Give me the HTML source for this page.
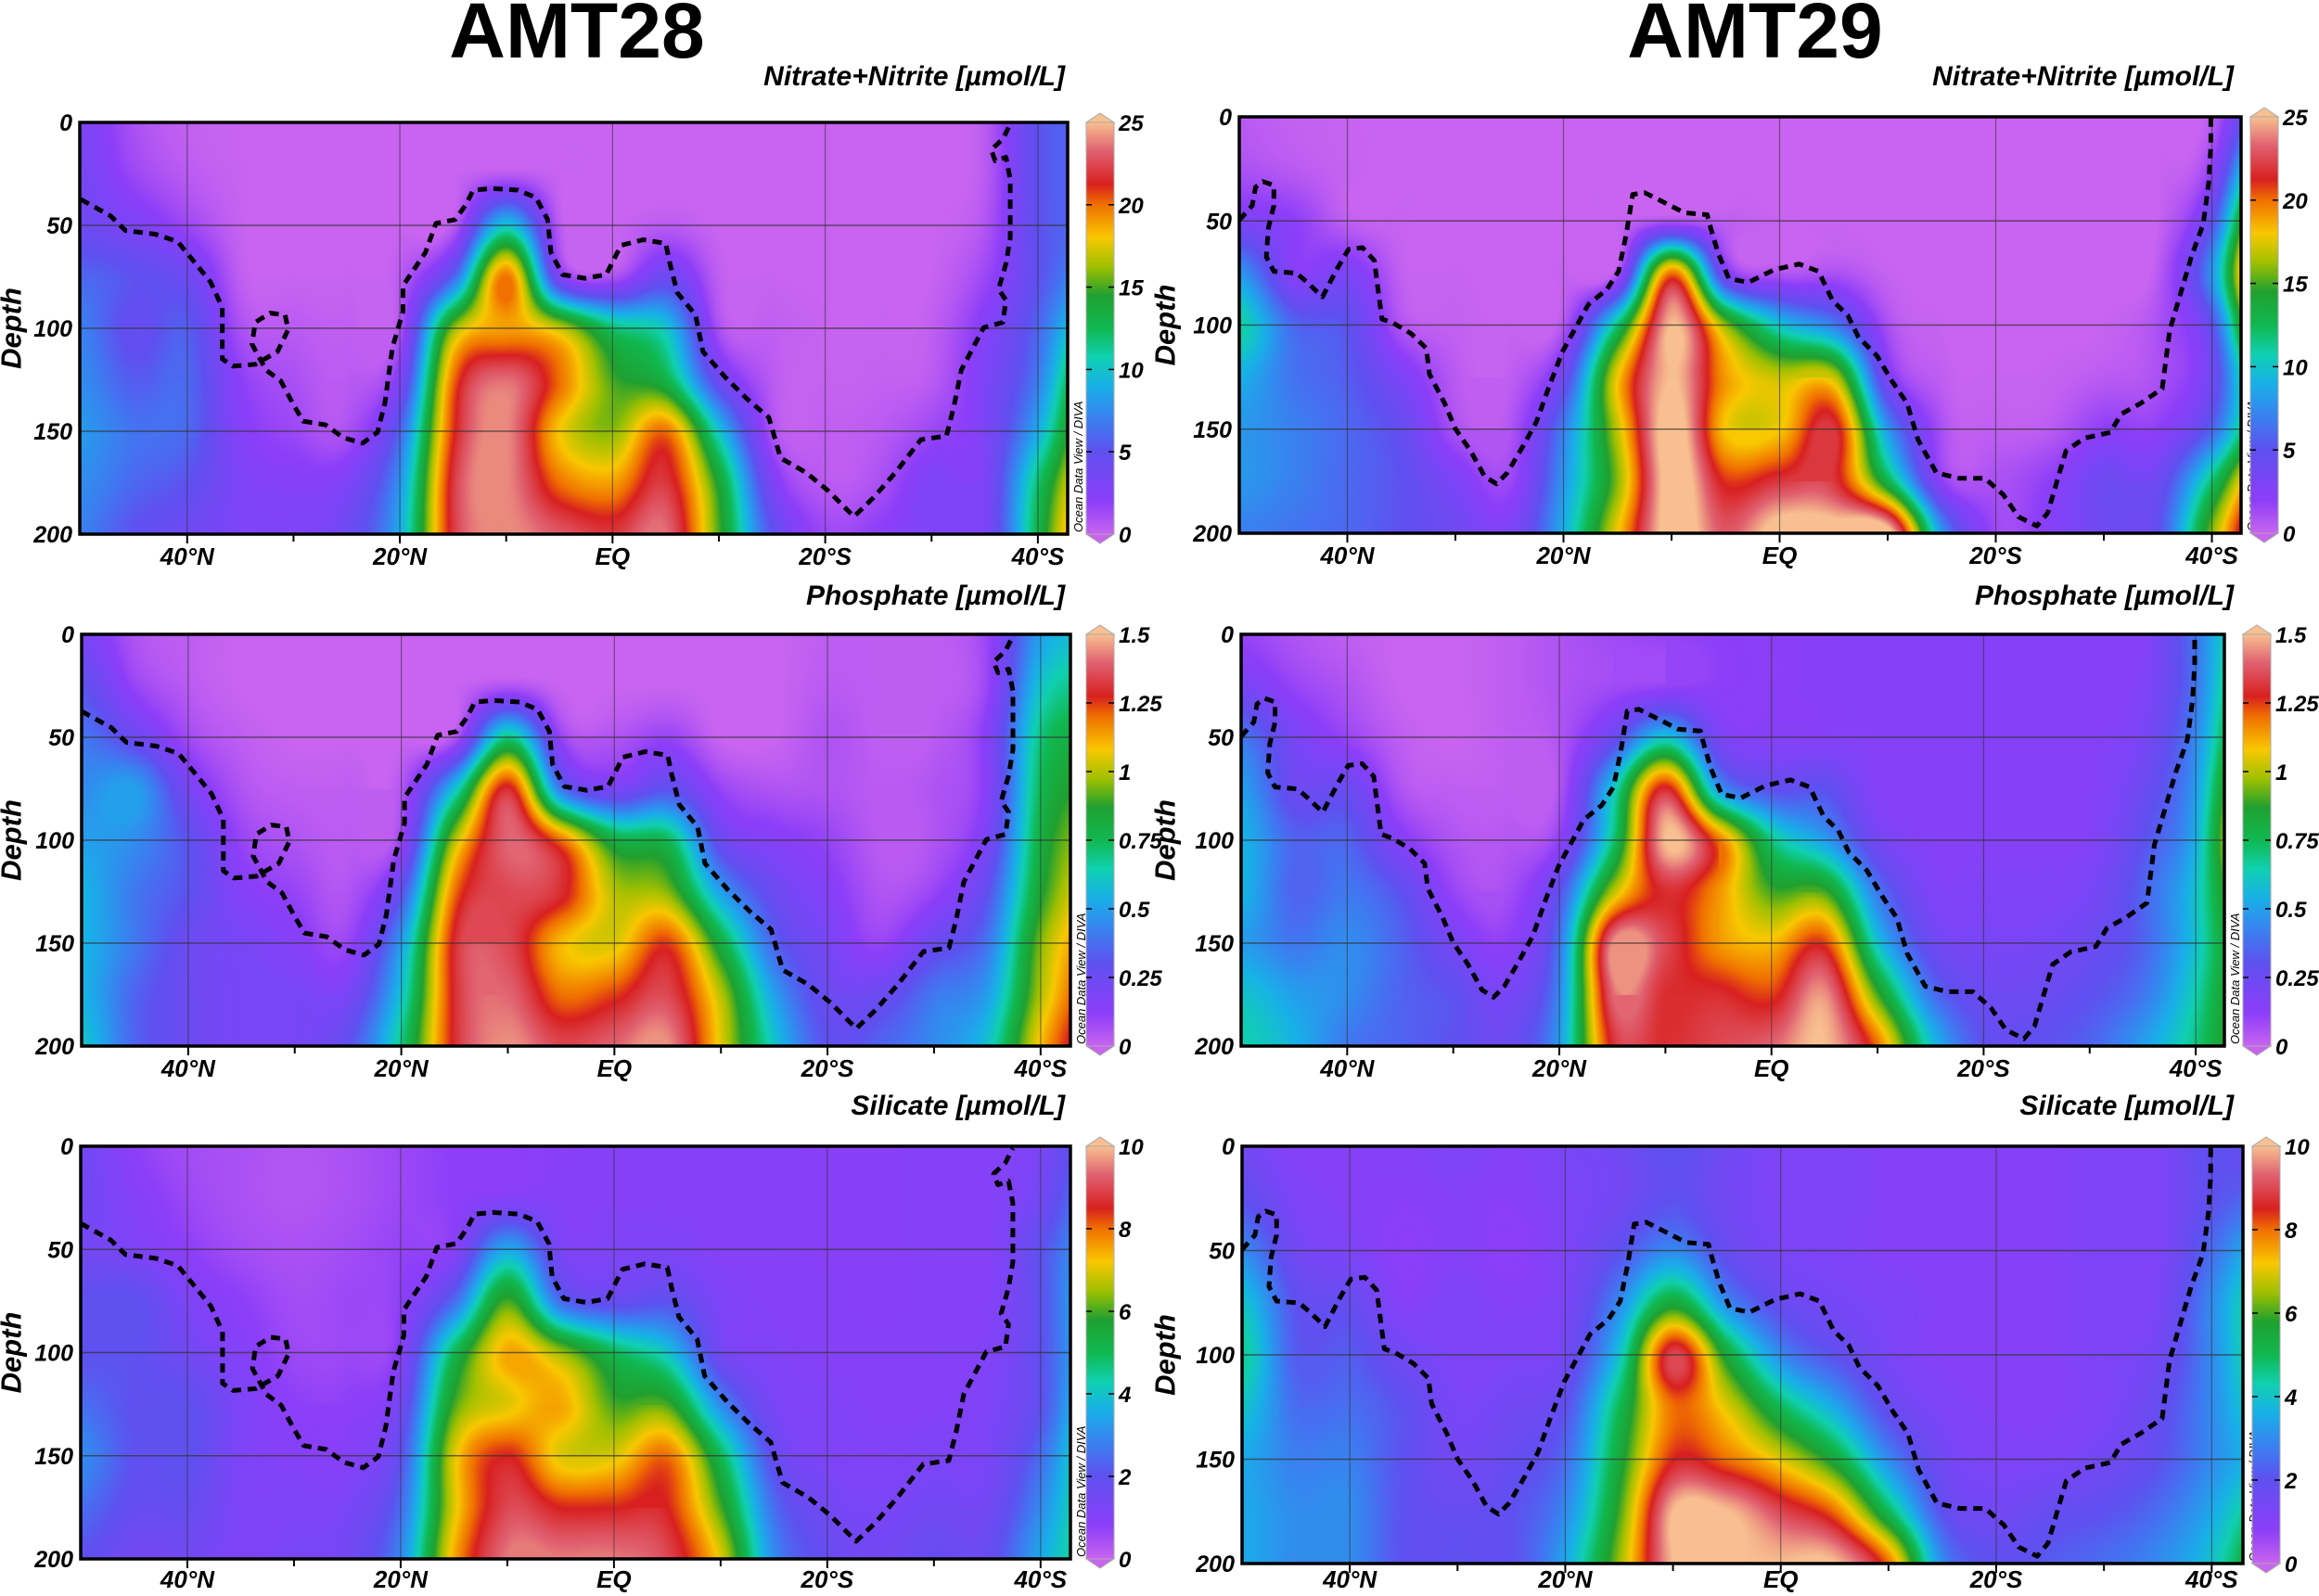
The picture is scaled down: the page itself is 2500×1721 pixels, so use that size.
<!DOCTYPE html>
<html><head><meta charset="utf-8">
<style>
html,body{margin:0;padding:0;background:#fff;}
#wrap{position:relative;width:2500px;height:1721px;overflow:hidden;background:#fff;}
canvas{position:absolute;}
svg{position:absolute;left:0;top:0;}
text{font-family:"Liberation Sans Narrow","Liberation Sans",Arial,sans-serif;}
</style></head>
<body>
<div id="wrap">
<svg id="ov" width="2500" height="1721"></svg>
</div>
<script>
// ---------- data ----------
const gridLats=[50,45,40,35,30,25,20,15,10,5,0,-5,-10,-15,-20,-25,-30,-35,-40,-45];
const gridDepths=[0,25,50,75,100,125,150,175,200];
const amt28Nitrate=[
[3,3.5,4,6,7,7.5,8,7.5,7],[1,1.5,3,5,4.5,5.5,6.5,6,5],[0.2,0.5,1.5,4,5.5,6,6,5,4],[0.02,0.05,0.1,0.3,1,2,2.5,3,3],
[0,0,0,0.05,0.5,1,1.5,2.5,3],[0,0,0,0.05,0.3,0.5,1,3,4],[0,0,0,0.5,1,3,6,8,9],[0,0,0.5,6,16,20,21,22,22],
[0,0.5,10,20,19,23.5,24,24,24],[0,0.05,0.5,3,17,20,18,20,23],[0,0,0.05,1,12,15,16,19,22],[0,0,0.5,4,10,13,20,22,23.5],
[0,0,0,0.3,1,4,10,14,15],[0,0,0,0.05,0.3,0.5,1,3,5],[0,0,0,0,0.05,0.1,0.3,0.5,1.5],[0,0,0,0,0.05,0.2,0.5,1,2],
[0,0,0,0.05,0.3,0.5,1.5,3,3],[0.5,0.5,0.8,1.5,2.5,3,3,3,3],[5,5,5,5,6,7,9,12,13],[6,6,6,8,12,16,18,20,22]];
const amt29Nitrate=[
[0.5,1,3,8,11,9,8,8,7],[0.2,0.5,2,2.5,6,6.5,7,7,6.5],[0.05,0.1,0.3,3,5,5.5,6,6,6],[0,0,0.05,0.2,0.8,3,4.5,5,5],
[0,0,0,0.05,0.2,0.5,1,3,4],[0,0,0,0,0.05,0.3,0.8,1.5,3],[0,0,0,0.1,0.8,4,7,8,9],[0,0,0.05,1,12,18,17,16,18],
[0,0,1,20,25,25,26,26,26],[0,0,0.3,3,16,19,18,21,23],[0,0,0.05,0.8,10,17,18,22,26],[0,0,0,1,7,17,22,22,26],
[0,0,0,0.1,1,3,8,13,26],[0,0,0,0,0.05,0.3,1,2,8],[0,0,0,0,0,0.05,0.3,1,1.5],[0,0,0,0,0,0.1,0.5,2,2.5],
[0,0,0,0,0.05,0.5,2,4,4],[0,0,0.05,0.5,1,1,2,4,5],[0.5,2,5,8,5,4,6,12,16],[8,15,22,26,22,16,16,22,26]];
const amt28Phosphate=[
[0.2,0.3,0.4,0.45,0.5,0.55,0.55,0.55,0.6],[0.05,0.1,0.25,0.5,0.45,0.4,0.4,0.35,0.35],[0.02,0.03,0.08,0.2,0.3,0.3,0.25,0.25,0.25],
[0,0,0.02,0.05,0.1,0.15,0.2,0.2,0.2],[0,0,0,0.02,0.05,0.1,0.15,0.2,0.2],[0,0,0,0.02,0.03,0.05,0.1,0.2,0.3],
[0,0,0,0.05,0.1,0.3,0.5,0.6,0.7],[0,0,0.05,0.6,1.0,1.2,1.3,1.3,1.3],[0,0.05,0.7,1.3,1.4,1.35,1.35,1.4,1.45],
[0,0,0.1,0.4,1.2,1.3,1.1,1.2,1.35],[0,0,0.05,0.2,0.8,1.0,1.05,1.25,1.4],[0,0,0.1,0.3,0.75,0.95,1.25,1.35,1.45],
[0,0,0,0.1,0.25,0.5,0.8,1.0,1.05],[0,0,0,0.05,0.15,0.25,0.35,0.5,0.6],[0.02,0.03,0.05,0.05,0.1,0.15,0.2,0.25,0.3],
[0.02,0.02,0.02,0.03,0.03,0.05,0.1,0.25,0.35],[0.02,0.02,0.03,0.05,0.05,0.1,0.25,0.4,0.45],[0.1,0.1,0.15,0.15,0.2,0.3,0.4,0.5,0.6],
[0.5,0.6,0.7,0.75,0.8,0.85,0.95,1.0,1.1],[0.6,0.7,0.8,0.9,1.0,1.1,1.2,1.3,1.4]];
const amt29Phosphate=[
[0.1,0.2,0.4,0.5,0.55,0.55,0.5,0.6,0.65],[0.05,0.1,0.2,0.25,0.35,0.35,0.4,0.5,0.55],[0.02,0.05,0.1,0.25,0.35,0.4,0.45,0.45,0.4],
[0,0,0.02,0.05,0.15,0.3,0.35,0.35,0.35],[0,0,0,0.02,0.05,0.1,0.2,0.3,0.3],[0.02,0.02,0.02,0.02,0.04,0.07,0.12,0.2,0.25],
[0.05,0.05,0.05,0.05,0.12,0.3,0.4,0.45,0.5],[0.08,0.08,0.25,0.6,0.7,1.0,1.45,1.4,1.3],[0.1,0.1,0.6,1.3,1.5,1.3,1.35,1.3,1.3],
[0.12,0.12,0.2,0.5,1.2,1.15,1.15,1.3,1.35],[0.13,0.13,0.15,0.3,0.7,0.9,1.1,1.25,1.4],[0.14,0.14,0.15,0.3,0.5,0.9,1.25,1.45,1.5],
[0.15,0.15,0.15,0.15,0.22,0.4,0.6,0.9,1.2],[0.15,0.15,0.15,0.15,0.15,0.18,0.25,0.4,0.6],[0.15,0.15,0.15,0.15,0.15,0.17,0.2,0.25,0.3],
[0.15,0.15,0.15,0.15,0.15,0.17,0.2,0.25,0.3],[0.15,0.15,0.15,0.15,0.16,0.2,0.25,0.3,0.35],[0.15,0.17,0.2,0.25,0.3,0.35,0.35,0.4,0.5],
[0.4,0.4,0.45,0.5,0.55,0.6,0.6,0.65,0.7],[0.8,0.9,1.0,1.2,1.3,1.1,1.0,1.0,1.0]];
const amt28Silicate=[
[1.5,1.5,1.5,2,2,2.5,3,2.5,2],[0.8,1,1.2,2,2,2,2,1.8,1.5],[0.5,0.6,0.8,1.2,1.5,2,2,1.8,1.5],[0.4,0.4,0.5,0.8,1,1.2,1.2,1.2,1.2],
[0.3,0.3,0.4,0.5,0.6,0.8,1,1.2,1.3],[0.4,0.4,0.5,0.6,0.6,0.8,1,1.3,1.5],[0.6,0.6,0.7,0.8,1,1.5,2,2.5,3],[0.8,0.8,1,2.5,5,6,7,7,7.5],
[0.8,1,3.5,6,7.5,7,8.5,9,9.5],[0.9,1,1.3,2.5,6.5,7.5,7,8.5,9.5],[1,1,1.2,1.8,5,6,7,8.5,9.5],[1,1,1.2,2,4,6,8,8.5,9],
[1,1,1,1.2,1.5,3,5,6,7],[1,1,1,1,1.1,1.3,1.8,2.5,3],[0.9,0.9,0.9,1,1,1.1,1.2,1.5,1.8],[0.9,0.9,0.9,0.9,1,1,1.1,1.3,1.5],
[1,1,1,1,1,1,1.2,1.5,1.8],[1,1,1,1,1.1,1.2,1.3,1.5,1.8],[1.3,1.5,2,2,2,2,2.5,3,3.5],[2.5,3,3.5,4,4,4.5,5,5,5]];
const amt29Silicate=[
[1.5,2,3,4,4.5,4,3.5,3.5,3.5],[1,1.2,1.5,2,2.2,2.5,2.8,3,3],[1,1,1.2,1.8,2.2,2.5,2.8,3,3],[1,0.9,0.8,1,1.5,2,2,2,2],
[1.2,1,1,1.2,1.2,1.3,1.5,1.8,2],[1,0.9,0.8,1,1.2,1.5,1.8,2,2],[1.3,1.2,1.2,1.3,1.5,2,2.5,3,3.5],[1.5,1.5,2,3,4,5,5.5,6,6.5],
[2,2,3,5.5,9,8,8.5,10,10],[1.5,1.5,1.8,3,5.5,7,8,10,10],[1.2,1.2,1.3,1.8,3,5,7,9,10],[1.2,1.2,1.2,1.4,2,3.5,5.5,8,10],
[1,1,1,1.2,1.3,1.8,3,5,8],[1,1,1,1,1,1.2,1.5,2,3],[1,1,1,1,1,1,1.2,1.5,2],[1,1,1,1,1,1,1.2,1.8,2.2],
[1.2,1.2,1.2,1.2,1.2,1.2,1.5,2,2.5],[1.2,1.2,1.2,1.3,1.5,1.8,2,2.5,3],[2,2,2.5,3,3,3,3,3.5,4],[1.5,2.5,4,5,5,4.5,4,5,6]];
const amt28LineLat=[50.0,47.2,45.8,43.0,40.9,39.2,37.8,36.7,36.7,35.7,33.6,31.5,30.5,30.8,32.2,33.6,33.9,32.6,31.2,30.1,29.1,27.0,25.3,23.5,22.1,21.4,20.7,19.7,19.7,17.6,16.6,14.8,13.8,13.1,11.3,8.9,7.2,6.1,5.8,4.7,2.6,0.6,-0.8,-2.9,-5.0,-5.4,-6.1,-7.8,-8.5,-10.6,-12.7,-14.7,-15.8,-18.2,-20.3,-22.7,-24.5,-26.6,-29.0,-31.4,-32.1,-32.8,-34.9,-36.7,-37.0,-36.3,-37.0,-37.4,-37.4,-37.0,-36.0,-35.6,-36.7,-37.4];
const amt28LineDepth=[37.4,45.4,52.5,54.3,57.9,68.6,77.5,89.9,114.9,118.4,117.5,111.3,100.6,93.5,92.6,97.1,107.7,120.2,125.6,136.2,145.1,146.9,153.2,155.8,150.5,136.2,109.5,91.7,79.3,63.2,49.0,47.2,40.1,32.9,32.1,32.9,36.5,47.2,63.2,73.9,75.7,73.9,59.7,57.0,58.8,68.6,82.8,93.5,111.3,123.8,134.5,143.4,163.0,170.1,179.0,191.5,182.5,170.1,154.1,152.3,138.0,120.2,99.7,97.1,86.4,81.0,68.6,56.1,27.6,16.9,18.7,13.4,8.0,0.9];
const amt29LineLat=[50.0,48.8,48.5,47.8,46.8,46.8,47.3,47.5,46.8,44.7,43.7,42.3,40.9,39.9,38.6,37.5,37.2,36.8,35.8,34.1,32.7,32.4,31.0,30.0,28.6,27.3,26.2,25.2,23.8,22.5,21.4,20.1,19.0,17.7,16.0,14.9,14.2,13.6,12.5,10.8,8.8,6.7,6.4,5.7,4.7,2.9,0.5,-1.8,-3.6,-4.9,-6.3,-7.3,-9.0,-10.4,-11.8,-12.8,-14.5,-16.6,-19.0,-20.7,-22.1,-23.8,-24.8,-25.8,-26.5,-28.2,-30.6,-31.6,-33.4,-35.4,-36.1,-37.1,-38.1,-39.2,-39.7,-39.9,-39.9];
const amt29LineDepth=[49.6,42.6,33.8,31.1,32.9,42.6,53.1,67.2,74.2,75.1,79.5,86.5,72.5,63.7,62.8,69.0,81.3,97.1,98.9,104.1,111.2,123.5,137.6,149.9,160.4,172.7,176.3,171.0,158.7,146.4,130.5,112.9,102.4,90.1,83.0,74.2,56.6,37.3,36.4,40.8,46.1,47.0,53.1,65.4,77.7,79.5,73.4,70.7,74.2,88.3,95.3,105.9,114.7,127.0,137.6,155.1,171.0,173.6,173.6,181.5,192.1,196.5,190.3,172.7,160.4,154.3,151.6,142.8,137.6,130.5,102.4,84.8,67.2,51.4,32.0,14.4,0];
const nitrateTicks=["0","5","10","15","20","25"];
const phosphateTicks=["0","0.25","0.5","0.75","1","1.25","1.5"];
const silicateTicks=["0","2","4","6","8","10"];
const depthTicks=[0,50,100,150,200];
const latTicks=[40,20,0,-20,-40];
const latTickLabels=["40°N","20°N","EQ","20°S","40°S"];

// ---------- colormap ----------
const cmap=[[0,200,100,240],[0.08,140,62,248],[0.2,95,80,240],[0.28,58,128,240],[0.36,24,176,232],[0.43,16,208,176],
[0.5,16,184,80],[0.58,32,160,48],[0.65,160,192,0],[0.72,248,200,0],[0.8,240,112,0],[0.85,216,32,32],[0.93,224,96,112],[1,248,192,144]];
function color(t){
  if(t<0)t=0;if(t>1)t=1;
  for(let i=1;i<cmap.length;i++){
    if(t<=cmap[i][0]){const a=cmap[i-1],b=cmap[i],f=(t-a[0])/(b[0]-a[0]);
      return [a[1]+(b[1]-a[1])*f,a[2]+(b[2]-a[2])*f,a[3]+(b[3]-a[3])*f];}
  }
  return cmap[cmap.length-1].slice(1);
}
function cr(p0,p1,p2,p3,t){return 0.5*((2*p1)+(-p0+p2)*t+(2*p0-5*p1+4*p2-p3)*t*t+(-p0+3*p1-3*p2+p3)*t*t*t);}
function sample(g,lat,d){
  const NI=gridLats.length,NJ=gridDepths.length;
  let fi=(gridLats[0]-lat)/5, fj=d/25;
  fi=Math.max(0,Math.min(NI-1.0001,fi)); fj=Math.max(0,Math.min(NJ-1.0001,fj));
  const i=Math.floor(fi),j=Math.floor(fj),u=fi-i,v=fj-j;
  const ci=k=>Math.max(0,Math.min(NI-1,k)), cj=k=>Math.max(0,Math.min(NJ-1,k));
  const col=[];let mn=1e9,mx=-1e9;
  for(let a=-1;a<=2;a++){const r=g[ci(i+a)];
    col.push(cr(r[cj(j-1)],r[cj(j)],r[cj(j+1)],r[cj(j+2)],v));}
  for(let a=0;a<=1;a++)for(let b=0;b<=1;b++){const x=g[ci(i+a)][cj(j+b)];if(x<mn)mn=x;if(x>mx)mx=x;}
  let val=cr(col[0],col[1],col[2],col[3],u);
  return Math.max(mn,Math.min(mx,val));
}

const panels=[
 {name:'amt28-nitrate',g:amt28Nitrate,vmax:25,ticks:nitrateTicks,x0:86,x1:1151,y0:132,y1:576,latL:50.1,latR:-42.8,lat:amt28LineLat,dep:amt28LineDepth,title:'Nitrate+Nitrite [µmol/L]',ty:92,cbx:1171,col:0},
 {name:'amt29-nitrate',g:amt29Nitrate,vmax:25,ticks:nitrateTicks,x0:1336,x1:2416,y0:126,y1:575,latL:50.0,latR:-42.7,lat:amt29LineLat,dep:amt29LineDepth,title:'Nitrate+Nitrite [µmol/L]',ty:92,cbx:2426,col:1},
 {name:'amt28-phosphate',g:amt28Phosphate,vmax:1.5,ticks:phosphateTicks,x0:88,x1:1154,y0:684,y1:1128,latL:50.0,latR:-42.8,lat:amt28LineLat,dep:amt28LineDepth,title:'Phosphate [µmol/L]',ty:652,cbx:1171,col:0},
 {name:'amt29-phosphate',g:amt29Phosphate,vmax:1.5,ticks:phosphateTicks,x0:1338,x1:2398,y0:684,y1:1128,latL:50.0,latR:-42.7,lat:amt29LineLat,dep:amt29LineDepth,title:'Phosphate [µmol/L]',ty:652,cbx:2418,col:1},
 {name:'amt28-silicate',g:amt28Silicate,vmax:10,ticks:silicateTicks,x0:87,x1:1154,y0:1236,y1:1681,latL:50.0,latR:-42.8,lat:amt28LineLat,dep:amt28LineDepth,title:'Silicate [µmol/L]',ty:1202,cbx:1171,col:0},
 {name:'amt29-silicate',g:amt29Silicate,vmax:10,ticks:silicateTicks,x0:1339,x1:2418,y0:1236,y1:1686,latL:50.0,latR:-42.9,lat:amt29LineLat,dep:amt29LineDepth,title:'Silicate [µmol/L]',ty:1202,cbx:2428,col:1}
];

const NS='http://www.w3.org/2000/svg';
const ov=document.getElementById('ov');
const wrap=document.getElementById('wrap');
function el(tag,attrs,parent,txt){const e=document.createElementNS(NS,tag);for(const k in attrs)e.setAttribute(k,attrs[k]);if(txt!==undefined)e.textContent=txt;(parent||ov).appendChild(e);return e;}

const defs=el('defs',{});
const lg=el('linearGradient',{id:'cg',x1:0,y1:1,x2:0,y2:0},defs);
cmap.forEach(s=>el('stop',{offset:s[0],'stop-color':`rgb(${s[1]},${s[2]},${s[3]})`},lg));

const t1=el('text',{x:622,y:62,'text-anchor':'middle','font-size':84,'font-weight':'bold','font-family':'Liberation Sans, Arial, sans-serif'},ov,'AMT28');

const t2=el('text',{x:1892,y:62,'text-anchor':'middle','font-size':84,'font-weight':'bold','font-family':'Liberation Sans, Arial, sans-serif'},ov,'AMT29');


panels.forEach(p=>{
  const W=p.x1-p.x0,H=p.y1-p.y0;
  const xs=lat=>p.x0+(p.latL-lat)/(p.latL-p.latR)*W;
  const ys=d=>p.y0+d/200*H;
  const c=document.createElement('canvas');c.width=W;c.height=H;
  c.style.left=p.x0+'px';c.style.top=p.y0+'px';
  
  
  wrap.insertBefore(c,ov);
  const ctx=c.getContext('2d');const img=ctx.createImageData(W,H);
  for(let y=0;y<H;y++){const d=y/H*200;
    for(let x=0;x<W;x++){const lat=p.latL-(x/W)*(p.latL-p.latR);
      const col=color(sample(p.g,lat,d)/p.vmax);const k=(y*W+x)*4;
      img.data[k]=col[0];img.data[k+1]=col[1];img.data[k+2]=col[2];img.data[k+3]=255;}}
  ctx.putImageData(img,0,0);
  const g=el('g',{});
  
  depthTicks.slice(1,4).forEach(d=>el('line',{x1:p.x0,x2:p.x1,y1:ys(d),y2:ys(d),stroke:'#333','stroke-width':1.5,'stroke-opacity':0.7},g));
  latTicks.forEach(l=>el('line',{x1:xs(l),x2:xs(l),y1:p.y0,y2:p.y1,stroke:'#333','stroke-width':1.2,'stroke-opacity':0.6},g));
  [30,10,-10,-30].forEach(l=>el('line',{x1:xs(l),x2:xs(l),y1:p.y1,y2:p.y1+8,stroke:'#000','stroke-width':2},g));
  latTicks.forEach(l=>el('line',{x1:xs(l),x2:xs(l),y1:p.y1,y2:p.y1+10,stroke:'#000','stroke-width':2},g));
  let dstr='';p.lat.forEach((l,i)=>{dstr+=(i?'L':'M')+xs(l).toFixed(1)+','+ys(p.dep[i]).toFixed(1);});
  const dl=el('path',{d:dstr,fill:'none',stroke:'#000','stroke-width':5,'stroke-dasharray':'10 7','stroke-linejoin':'round'},g);
  
  el('rect',{x:p.x0,y:p.y0,width:W,height:H,fill:'none',stroke:'#000','stroke-width':3.5},g);
  depthTicks.forEach(d=>{const t=el('text',{x:p.x0-8,y:ys(d)+9,'text-anchor':'end','font-size':25,'font-weight':'bold','font-style':'italic'},g,String(d));
    });
  latTicks.forEach((l,i)=>{const t=el('text',{x:xs(l),y:Math.min(p.y1+33,1712),'text-anchor':'middle','font-size':26,'font-weight':'bold','font-style':'italic'},g,latTickLabels[i]);
    });
  const dx=p.col?1256:12, dy=(p.y0+p.y1)/2;
  const dt=el('text',{x:dx,y:dy,transform:`rotate(-90 ${dx} ${dy})`,'text-anchor':'middle','dominant-baseline':'central','font-size':31,'font-weight':'bold','font-style':'italic','font-family':'Liberation Sans, Arial, sans-serif'},g,'Depth');
  
  const st=el('text',{x:p.col?2408:1148,y:p.ty,'text-anchor':'end','font-size':30,'font-weight':'bold','font-style':'italic'},g,p.title);
  
  const ox=p.x1+16, oy=p.y1-2;
  el('text',{x:ox,y:oy,transform:`rotate(-90 ${ox} ${oy})`,'font-size':13,'font-style':'italic'},g,'Ocean Data View / DIVA');
  const cb=el('g',{});
  
  const cx=p.cbx,cw=30,cy0=p.y0,cy1=p.y1;
  el('rect',{x:cx,y:cy0,width:cw,height:cy1-cy0,fill:'url(#cg)',stroke:'#aaa','stroke-width':1},cb);
  el('polygon',{points:`${cx},${cy0} ${cx+cw/2},${cy0-10} ${cx+cw},${cy0}`,fill:'rgb(248,192,144)',stroke:'#aaa'},cb);
  el('polygon',{points:`${cx},${cy1} ${cx+cw/2},${cy1+10} ${cx+cw},${cy1}`,fill:'rgb(200,100,240)',stroke:'#aaa'},cb);
  const n=p.ticks.length-1;
  p.ticks.forEach((lab,i)=>{const yy=cy1-(cy1-cy0)*i/n;
    if(i>0&&i<n){el('line',{x1:cx,x2:cx+6,y1:yy,y2:yy,stroke:'#000','stroke-width':1.5},cb);el('line',{x1:cx+cw-6,x2:cx+cw,y1:yy,y2:yy,stroke:'#000','stroke-width':1.5},cb);}
    const t=el('text',{x:cx+cw+5,y:yy+9,'font-size':24,'font-weight':'bold','font-style':'italic'},cb,lab);
    });
});
</script>
</body></html>
